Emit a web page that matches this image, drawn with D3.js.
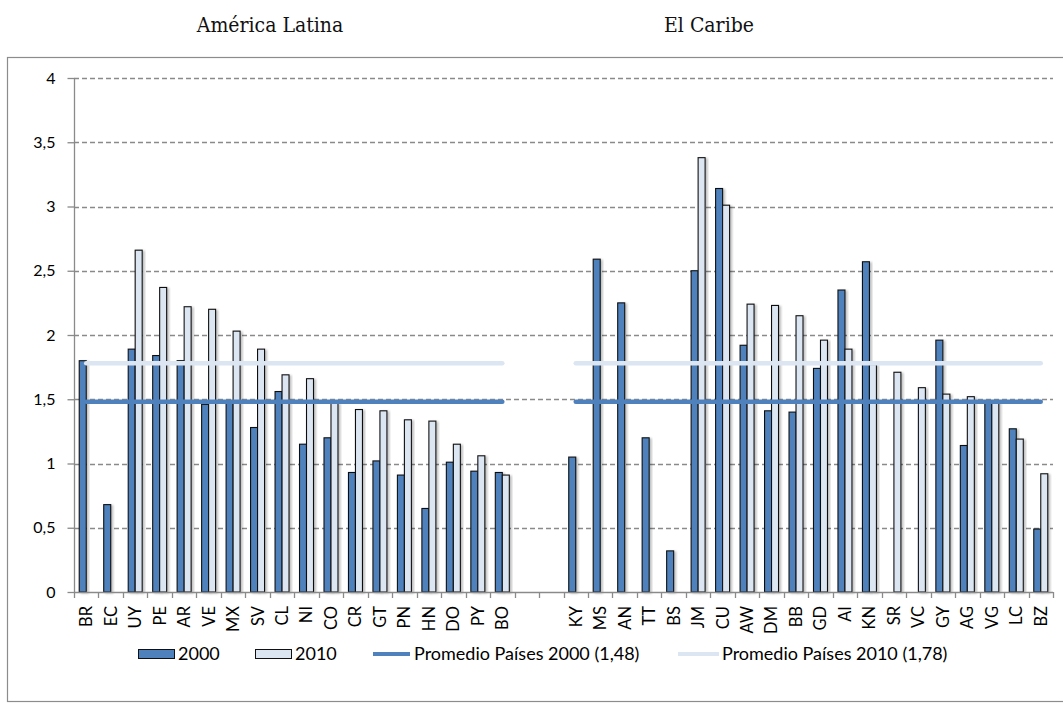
<!DOCTYPE html>
<html>
<head>
<meta charset="utf-8">
<script src="https://cdn.jsdelivr.net/npm/d3@7"></script>
<style>
  html, body { margin: 0; padding: 0; background: #fff; }
  svg { display: block; }
</style>
</head>
<body>
<svg id="chart" width="1063" height="703"></svg>
<script>
// ---------- DATA ----------
const groupTitles = ["América Latina", "El Caribe"];
const catsLA = ["BR","EC","UY","PE","AR","VE","MX","SV","CL","NI","CO","CR","GT","PN","HN","DO","PY","BO"];
const v2000LA = [1.80,0.68,1.89,1.84,1.80,1.46,1.49,1.28,1.56,1.15,1.20,0.93,1.02,0.91,0.65,1.01,0.94,0.93];
const v2010LA = [null,null,2.66,2.37,2.22,2.20,2.03,1.89,1.69,1.66,1.47,1.42,1.41,1.34,1.33,1.15,1.06,0.91];
const catsCar = ["KY","MS","AN","TT","BS","JM","CU","AW","DM","BB","GD","AI","KN","SR","VC","GY","AG","VG","LC","BZ"];
const v2000Car = [1.05,2.59,2.25,1.20,0.32,2.50,3.14,1.92,1.41,1.40,1.74,2.35,2.57,null,null,1.96,1.14,1.49,1.27,0.49];
const v2010Car = [null,null,null,null,null,3.38,3.01,2.24,2.23,2.15,1.96,1.89,1.77,1.71,1.59,1.54,1.52,1.49,1.19,0.92];
const gapCats = ["_gap1","_gap2"];
const series = ["2000","2010"];
const avg2000 = 1.48;
const avg2010 = 1.78;
const yTicks = [0,0.5,1,1.5,2,2.5,3,3.5,4];
const legendLabels = ["2000","2010","Promedio Países 2000 (1,48)","Promedio Países 2010 (1,78)"];

// ---------- STYLE ----------
const C2000 = "#4F81BD", C2010 = "#DCE6F2", GRID = "#8a8a8a";
const FONT = "Lato, 'Open Sans', sans-serif";
const TFONT = "'DejaVu Serif Condensed', 'Liberation Serif', serif";

const categories = [...catsLA, ...gapCats, ...catsCar];
const rows = [];
catsLA.forEach((c,i)=>rows.push({cat:c, "2000":v2000LA[i], "2010":v2010LA[i]}));
catsCar.forEach((c,i)=>rows.push({cat:c, "2000":v2000Car[i], "2010":v2010Car[i]}));

const svg = d3.select("#chart");
const L = 74, R = 1053, T = 78, B = 592;

const x = d3.scaleBand().domain(categories).range([L, R]).padding(0);
const x1 = d3.scaleBand().domain(series).range([0, x.bandwidth()]).paddingInner(0).paddingOuter(0.75);
const y = d3.scaleLinear().domain([0, 4]).range([B, T]);

// outer border
svg.append("rect").attr("x",7.5).attr("y",57.5).attr("width",1070).attr("height",644)
  .attr("fill","none").attr("stroke","#8c8c8c").attr("stroke-width",1.2);

// titles
svg.append("text").attr("x",270).attr("y",32).attr("text-anchor","middle")
  .attr("font-family",TFONT).attr("font-size",21).attr("fill","#111").text(groupTitles[0]);
svg.append("text").attr("x",709).attr("y",32).attr("text-anchor","middle")
  .attr("font-family",TFONT).attr("font-size",21).attr("fill","#111").text(groupTitles[1]);

// shadow filter
const defs = svg.append("defs");
const f = defs.append("filter").attr("id","sh").attr("x","-30%").attr("y","-5%").attr("width","180%").attr("height","115%");
f.append("feDropShadow").attr("dx",2).attr("dy",1).attr("stdDeviation",1.2).attr("flood-color","#000").attr("flood-opacity",0.25);

// gridlines
svg.append("g").selectAll("line").data(yTicks.filter(d=>d>0)).join("line")
  .attr("x1",L).attr("x2",R).attr("y1",d=>Math.round(y(d))+0.5).attr("y2",d=>Math.round(y(d))+0.5)
  .attr("stroke",GRID).attr("stroke-width",1.3).attr("stroke-dasharray","5,3");

// y axis
const yAxis = d3.axisLeft(y).tickValues(yTicks).tickSize(7).tickPadding(12)
  .tickFormat(d => String(d).replace(".", ","));
const gy = svg.append("g").attr("transform",`translate(${L+0.5},0)`).call(yAxis);
gy.select(".domain").attr("stroke",GRID).attr("stroke-width",1.3).attr("d",`M0,${T}V${B}`);
gy.selectAll(".tick line").attr("stroke",GRID).attr("stroke-width",1.3);
gy.selectAll(".tick text").attr("font-family",FONT).attr("font-size",16).attr("fill","#000");

// bars
const gBars = svg.append("g");
rows.forEach(r => {
  series.forEach(s => {
    if (r[s] == null) return;
    gBars.append("rect")
      .attr("x", x(r.cat) + x1(s))
      .attr("y", y(r[s]))
      .attr("width", x1.bandwidth())
      .attr("height", y(0) - y(r[s]))
      .attr("fill", s === "2000" ? C2000 : C2010)
      .attr("stroke", "#111").attr("stroke-width", 1.1)
      .attr("filter","url(#sh)");
  });
});

// x axis baseline + ticks at band edges
svg.append("line").attr("x1",L).attr("x2",R).attr("y1",B+0.5).attr("y2",B+0.5)
  .attr("stroke",GRID).attr("stroke-width",1.3);
const edges = categories.map(c=>x(c)).concat([x.range()[1]]);
svg.append("g").selectAll("line").data(edges).join("line")
  .attr("x1",d=>Math.round(d)+0.5).attr("x2",d=>Math.round(d)+0.5).attr("y1",B).attr("y2",B+6)
  .attr("stroke",GRID).attr("stroke-width",1.3);

// x labels rotated
svg.append("g").selectAll("text").data(categories.filter(c=>!gapCats.includes(c))).join("text")
  .attr("transform", c => `translate(${x(c)+x.bandwidth()/2},606) rotate(-90)`)
  .attr("text-anchor","end").attr("dy","0.36em")
  .attr("font-family",FONT).attr("font-size",16.5).attr("fill","#000")
  .text(c=>c);

// average lines
[catsLA, catsCar].forEach(g => {
  const x0 = x(g[0]) + x.bandwidth()/2, xN = x(g[g.length-1]) + x.bandwidth()/2;
  svg.append("line").attr("x1",x0).attr("x2",xN).attr("y1",y(avg2010)).attr("y2",y(avg2010))
    .attr("stroke",C2010).attr("stroke-width",4.5).attr("stroke-linecap","round");
  svg.append("line").attr("x1",x0).attr("x2",xN).attr("y1",y(avg2000)).attr("y2",y(avg2000))
    .attr("stroke",C2000).attr("stroke-width",4.5).attr("stroke-linecap","round");
});

// legend
const LY = 654;
const leg = svg.append("g").attr("font-family",FONT).attr("font-size",18).attr("fill","#000");
leg.append("rect").attr("x",138.5).attr("y",LY-4.5).attr("width",36).attr("height",9).attr("fill",C2000).attr("stroke","#111").attr("stroke-width",1);
leg.append("text").attr("x",178).attr("y",LY).attr("dy","0.35em").text(legendLabels[0]);
leg.append("rect").attr("x",255.5).attr("y",LY-4.5).attr("width",36).attr("height",9).attr("fill",C2010).attr("stroke","#111").attr("stroke-width",1);
leg.append("text").attr("x",295).attr("y",LY).attr("dy","0.35em").text(legendLabels[1]);
leg.append("line").attr("x1",373).attr("x2",410).attr("y1",LY).attr("y2",LY).attr("stroke",C2000).attr("stroke-width",4);
leg.append("text").attr("x",414).attr("y",LY).attr("dy","0.35em").text(legendLabels[2]);
leg.append("line").attr("x1",678).attr("x2",719).attr("y1",LY).attr("y2",LY).attr("stroke",C2010).attr("stroke-width",4);
leg.append("text").attr("x",722).attr("y",LY).attr("dy","0.35em").text(legendLabels[3]);
</script>
</body>
</html>
